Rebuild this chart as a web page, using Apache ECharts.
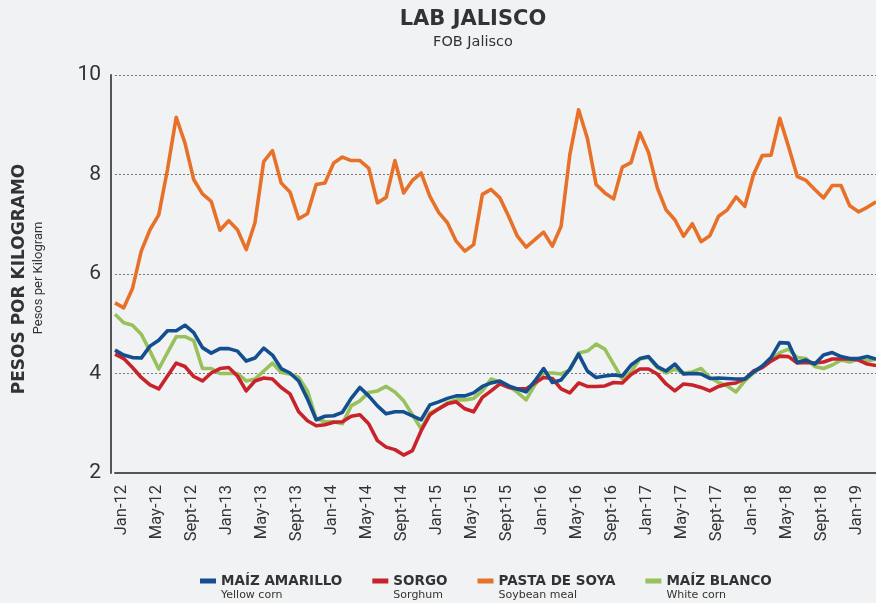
<!DOCTYPE html>
<html>
<head>
<meta charset="utf-8">
<script src="https://cdn.jsdelivr.net/npm/echarts@6/dist/echarts.min.js"></script>
<style>
  html, body { margin: 0; padding: 0; background: #f1f2f4; }
  #chart { width: 876px; height: 603px; }
</style>
</head>
<body>
<div id="chart"></div>
<script>
// Monthly prices, Jan-2012 .. Apr-2019 (pesos per kilogram, FOB Jalisco)
const monthNames = ['Jan', 'Feb', 'Mar', 'Apr', 'May', 'Jun', 'Jul', 'Aug', 'Sept', 'Oct', 'Nov', 'Dec'];
const years = ['12', '13', '14', '15', '16', '17', '18', '19'];
const lastMonthOfFinalYear = 4; // data runs through April 2019

const categories = [];
years.forEach((y, yi) => {
  const n = yi === years.length - 1 ? lastMonthOfFinalYear : 12;
  for (let m = 0; m < n; m++) categories.push(monthNames[m] + '-' + y);
});

const maizAmarillo = [
  4.47, 4.37, 4.32, 4.31, 4.55, 4.67, 4.86, 4.86, 4.97, 4.82,
  4.52, 4.41, 4.50, 4.50, 4.45, 4.25, 4.31, 4.51, 4.37, 4.10,
  4.01, 3.85, 3.49, 3.07, 3.14, 3.15, 3.22, 3.50, 3.72, 3.55,
  3.35, 3.19, 3.23, 3.23, 3.15, 3.07, 3.37, 3.43, 3.50, 3.55,
  3.55, 3.61, 3.74, 3.81, 3.85, 3.75, 3.69, 3.63, 3.85, 4.10,
  3.82, 3.87, 4.09, 4.39, 4.05, 3.92, 3.95, 3.97, 3.95, 4.17,
  4.30, 4.34, 4.14, 4.05, 4.19, 3.99, 4.00, 3.99, 3.90, 3.91,
  3.90, 3.89, 3.89, 4.03, 4.15, 4.32, 4.62, 4.61, 4.22, 4.27,
  4.19, 4.37, 4.42, 4.34, 4.30, 4.30, 4.34, 4.29
];

const sorgo = [
  4.39, 4.30, 4.12, 3.92, 3.77, 3.69, 3.95, 4.21, 4.14, 3.94,
  3.85, 4.01, 4.10, 4.12, 3.95, 3.65, 3.85, 3.91, 3.89, 3.72,
  3.59, 3.23, 3.05, 2.95, 2.97, 3.02, 3.03, 3.14, 3.17, 2.99,
  2.65, 2.52, 2.47, 2.36, 2.45, 2.85, 3.17, 3.29, 3.39, 3.43,
  3.29, 3.23, 3.52, 3.65, 3.79, 3.72, 3.69, 3.69, 3.81, 3.92,
  3.90, 3.69, 3.61, 3.81, 3.74, 3.74, 3.75, 3.82, 3.81, 3.98,
  4.09, 4.09, 3.99, 3.79, 3.65, 3.79, 3.77, 3.72, 3.65, 3.74,
  3.79, 3.81, 3.89, 4.05, 4.12, 4.25, 4.35, 4.34, 4.21, 4.22,
  4.21, 4.23, 4.29, 4.29, 4.29, 4.27, 4.19, 4.16
];

const pastaDeSoya = [
  5.42, 5.32, 5.71, 6.46, 6.89, 7.19, 8.10, 9.15, 8.63, 7.90,
  7.61, 7.46, 6.88, 7.07, 6.89, 6.49, 7.03, 8.26, 8.48, 7.83,
  7.65, 7.11, 7.21, 7.80, 7.83, 8.23, 8.35, 8.28, 8.28, 8.13,
  7.43, 7.54, 8.28, 7.63, 7.88, 8.03, 7.56, 7.24, 7.03, 6.66,
  6.46, 6.59, 7.60, 7.70, 7.53, 7.16, 6.76, 6.54, 6.69, 6.84,
  6.56, 6.96, 8.40, 9.30, 8.73, 7.80, 7.63, 7.51, 8.15, 8.24,
  8.84, 8.44, 7.73, 7.29, 7.09, 6.76, 7.01, 6.65, 6.77, 7.16,
  7.29, 7.55, 7.36, 8.00, 8.38, 8.39, 9.13, 8.56, 7.96, 7.88,
  7.70, 7.53, 7.78, 7.78, 7.37, 7.25, 7.34, 7.45
];

const maizBlanco = [
  5.19, 5.02, 4.97, 4.79, 4.45, 4.09, 4.42, 4.74, 4.74, 4.66,
  4.10, 4.10, 4.00, 4.00, 4.00, 3.85, 3.89, 4.05, 4.21, 4.02,
  3.99, 3.92, 3.65, 3.09, 3.03, 3.03, 2.99, 3.35, 3.45, 3.62,
  3.65, 3.74, 3.63, 3.45, 3.17, 2.89, 3.21, 3.29, 3.41, 3.47,
  3.47, 3.50, 3.65, 3.89, 3.83, 3.75, 3.62, 3.47, 3.77, 4.01,
  4.01, 3.99, 4.07, 4.41, 4.45, 4.59, 4.49, 4.19, 3.89, 4.03,
  4.29, 4.32, 4.12, 4.01, 4.09, 4.01, 4.03, 4.10, 3.92, 3.82,
  3.75, 3.63, 3.85, 4.01, 4.14, 4.27, 4.42, 4.49, 4.32, 4.30,
  4.14, 4.10, 4.17, 4.27, 4.23, 4.29, 4.25, 4.29
];

// Legend labels: Spanish name with English gloss underneath
const seriesNames = ['MAÍZ AMARILLO', 'SORGO', 'PASTA DE SOYA', 'MAÍZ BLANCO'];
const englishNames = ['Yellow corn', 'Sorghum', 'Soybean meal', 'White corn'];
const seriesColors = ['#134f8f', '#c8232b', '#e8712a', '#98c15b'];
const seriesData = [maizAmarillo, sorgo, pastaDeSoya, maizBlanco];

const yTicks = { min: 2, max: 10, step: 2 };

const chart = echarts.init(document.getElementById('chart'), null, { renderer: 'canvas' });

// draw order: white corn underneath, yellow corn on top
const drawOrder = [3, 1, 2, 0];
const series = drawOrder.map(i => ({
  name: seriesNames[i],
  type: 'line',
  data: seriesData[i],
  showSymbol: false,
  symbol: 'none',
  lineStyle: { color: seriesColors[i], width: 3.6, join: 'round' },
  itemStyle: { color: seriesColors[i] },
  emphasis: { disabled: true },
  animation: false
}));

const englishByName = {};
seriesNames.forEach((n, i) => { englishByName[n] = englishNames[i]; });

chart.setOption({
  backgroundColor: '#f1f2f4',
  animation: false,
  title: {
    text: 'LAB JALISCO',
    subtext: 'FOB Jalisco',
    left: 468,
    textAlign: 'center',
    top: 4,
    itemGap: 5,
    textStyle: { fontFamily: 'DejaVu Sans', fontWeight: 'bold', fontSize: 21, color: '#333333' },
    subtextStyle: { fontFamily: 'DejaVu Sans', fontSize: 14.5, color: '#333333' }
  },
  grid: { left: 115, right: -4.6, top: 75, bottom: 130, containLabel: false },
  legend: {
    data: seriesNames,
    left: 200,
    top: 574,
    padding: 0,
    itemGap: 30,
    itemWidth: 16,
    itemHeight: 5,
    icon: 'rect',
    selectedMode: false,
    formatter: name => '{a|' + name + '}\n{b|' + englishByName[name] + '}',
    textStyle: {
      padding: [14, 0, 0, 0],
      rich: {
        a: { fontFamily: 'DejaVu Sans', fontWeight: 'bold', fontSize: 13.5, color: '#333333', lineHeight: 14 },
        b: { fontFamily: 'DejaVu Sans', fontSize: 11, color: '#333333', lineHeight: 14 }
      }
    }
  },
  xAxis: {
    type: 'category',
    data: categories,
    boundaryGap: false,
    axisLine: { show: true, lineStyle: { color: '#555555', width: 2 } },
    axisTick: { show: false },
    axisLabel: {
      interval: 3,
      rotate: 90,
      margin: 12,
      fontFamily: 'Roboto',
      fontSize: 16.5,
      color: '#333333',
      verticalAlign: 'top',
      lineHeight: 14
    },
    splitLine: { show: false }
  },
  yAxis: {
    type: 'value',
    min: yTicks.min,
    max: yTicks.max,
    interval: yTicks.step,
    offset: 4,
    axisLine: { show: true, lineStyle: { color: '#555555', width: 2 } },
    axisTick: { show: false },
    axisLabel: { margin: 10, fontFamily: 'Roboto', fontSize: 21, color: '#333333' },
    splitLine: { show: true, lineStyle: { color: '#777777', type: [2, 2], width: 1 } }
  },
  graphic: [
    {
      type: 'text',
      x: 20, y: 279,
      rotation: Math.PI / 2,
      style: {
        text: 'PESOS POR KILOGRAMO',
        font: 'bold 17px "DejaVu Sans"',
        fill: '#333333',
        align: 'center',
        verticalAlign: 'middle'
      }
    },
    {
      type: 'text',
      x: 39, y: 278,
      rotation: Math.PI / 2,
      style: {
        text: 'Pesos per Kilogram',
        font: '13px Roboto',
        fill: '#333333',
        align: 'center',
        verticalAlign: 'middle'
      }
    }
  ],
  series: series
});
</script>
</body>
</html>
